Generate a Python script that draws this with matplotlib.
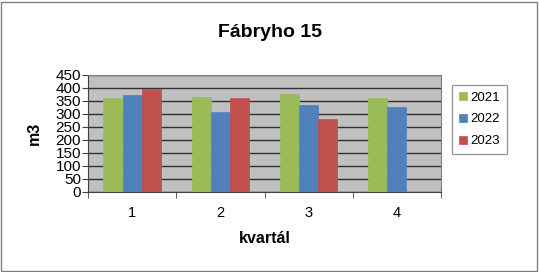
import matplotlib as mpl
mpl.use('Agg')
import matplotlib.pyplot as plt
import numpy as np
from matplotlib.patches import Rectangle

plt.rcParams['font.family'] = ['Liberation Sans', 'DejaVu Sans']

quarters = ['1', '2', '3', '4']
years = ['2021', '2022', '2023']
v2021 = [361, 364, 377, 359]
v2022 = [371, 305, 335, 325]
v2023 = [397, 361, 278, 0]
colors = ['#9BBB59', '#4F81BD', '#C0504D']

fig = plt.figure(figsize=(5.39, 2.72), dpi=100)
fig.patches.append(Rectangle((0.002, 0.004), 0.994, 0.99, transform=fig.transFigure,
                             fill=False, edgecolor='#808080', linewidth=1))
ax = fig.add_axes([0.1633, 0.2952, 0.6549, 0.430])
ax.set_facecolor('#C0C0C0')

x = np.arange(len(quarters))
w = 0.217
series = [v2021, v2022, v2023]
for i, (vals, yr) in enumerate(zip(series, years)):
    ax.bar(x + (i - 1) * w, vals, w, color=colors[i], label=yr, zorder=3,
           edgecolor=colors[i], linewidth=0.5)

ax.set_xlim(-0.5, 3.5)
ax.set_ylim(0, 450)
ax.set_yticks(np.arange(0, 451, 50))
ax.yaxis.grid(True, color='#303030', linewidth=1, zorder=0)
ax.set_axisbelow(True)
ax.set_xticks(x)
ax.set_xticklabels(quarters)
ax.set_xticks(np.arange(-0.5, 3.6, 1), minor=True)
ax.tick_params(axis='x', which='major', length=0, labelsize=10.5, pad=10)
ax.tick_params(axis='x', which='minor', length=4, color='#404040')
ax.tick_params(axis='y', length=4, labelsize=11, pad=1, color='#404040')
for s in ['top', 'right']:
    ax.spines[s].set_color('#808080')
for s in ['left', 'bottom']:
    ax.spines[s].set_color('#404040')

ax.set_xlabel('kvartál', fontsize=11.5, fontweight='bold', labelpad=8)
ax.set_ylabel('m3', fontsize=11.5, fontweight='bold', labelpad=10)
fig.suptitle('Fábryho 15', fontsize=14, fontweight='bold', y=0.91)

leg = fig.legend(loc='upper left', bbox_to_anchor=(0.839, 0.6875), fontsize=9.5,
                 handlelength=0.6, handleheight=0.6, handletextpad=0.3,
                 labelspacing=0.75, fancybox=False, edgecolor='#808080',
                 borderpad=0.5, borderaxespad=0)
leg.get_frame().set_linewidth(1)

fig.savefig('out.png', dpi=100)
